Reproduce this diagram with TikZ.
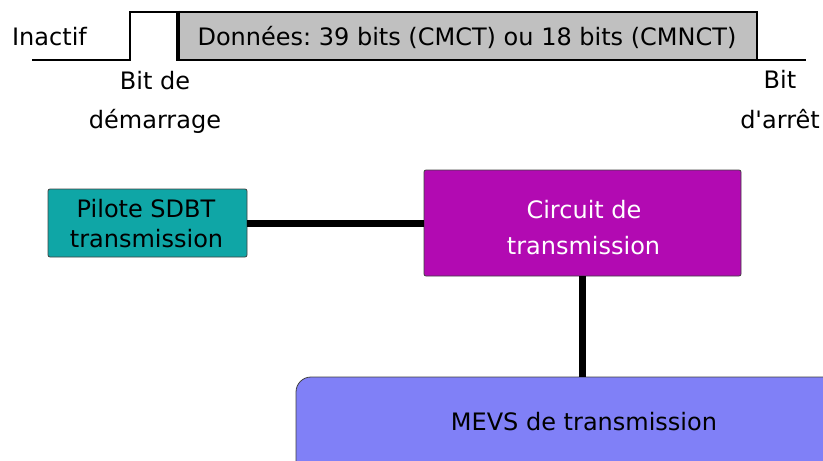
\documentclass[tikz,border=0pt]{standalone}
\usepackage{fontspec}
\setmainfont{DejaVu Sans}[Ligatures=TeXOff]
\frenchspacing
\definecolor{datagray}{HTML}{C0C0C0}
\definecolor{pilotteal}{HTML}{0FA6A6}
\definecolor{circuitmag}{HTML}{B20AB2}
\definecolor{mevsblue}{HTML}{8080F7}
\begin{document}
\begin{tikzpicture}[x=1pt,y=-1pt,
  txt/.style={inner sep=0pt, anchor=base, font=\fontsize{24}{28}\selectfont},
  blockbox/.style={draw=black!75, line width=0.8pt, rounded corners=2pt, inner sep=0pt},
  link/.style={line width=7pt},
  sig/.style={line width=2.6pt}]
\useasboundingbox (0,0) rectangle (823,461);
\clip (0,0) rectangle (823,461);

% serial frame: idle, start bit, data field, stop bit
\draw[sig] (32,60) -- (130,60) -- (130,12) -- (178,12);
\draw[sig, fill=datagray] (178,12) rectangle (757,60);
\draw[line width=4pt] (178,10.7) -- (178,61.3);
\draw[sig] (757,60) -- (806,60);
\node[txt] (data) at (467,45) {Données: 39 bits (CMCT) ou 18 bits (CMNCT)};
\node[txt] (idle) at (49.5,45) {Inactif};
\node[txt] (startbit1) at (155,89) {Bit de};
\node[txt] (startbit2) at (155,128) {démarrage};
\node[txt] (stopbit1) at (780,88) {Bit};
\node[txt] (stopbit2) at (780,128) {d'arrêt};

% blocks
\node[blockbox, fill=pilotteal, minimum width=199pt, minimum height=68pt] (pilote) at (147.5,223) {};
\node[txt] (pilote1) at (146,217) {Pilote SDBT};
\node[txt] (pilote2) at (146.5,247) {transmission};

\node[blockbox, fill=circuitmag, minimum width=317pt, minimum height=106pt] (circuit) at (582.5,223) {};
\node[txt, text=white] (circuit1) at (584,218) {Circuit de};
\node[txt, text=white] (circuit2) at (583.5,254) {transmission};

\node[blockbox, fill=mevsblue, rounded corners=15pt, minimum width=576pt, minimum height=100pt] (mevs) at (584,427) {};
\node[txt] (mevstext) at (584,430) {MEVS de transmission};

% links
\draw[link] (pilote.east) -- (circuit.west);
\draw[link] (circuit.south) -- (circuit.south |- mevs.north);
\end{tikzpicture}
\end{document}
